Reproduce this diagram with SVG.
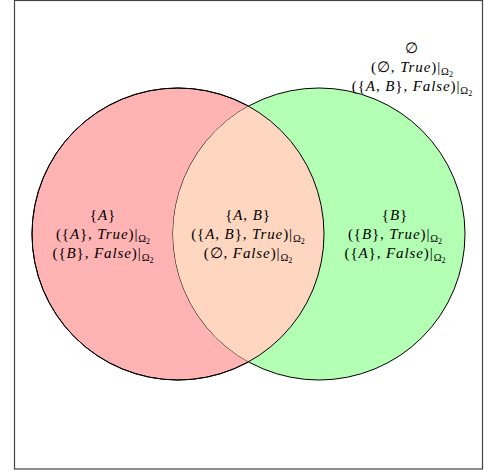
<svg xmlns="http://www.w3.org/2000/svg" width="484" height="471" viewBox="0 0 484 471">
<style>
.frame{fill:#fff;stroke:#444;stroke-width:1.2}
.c{stroke:#000;stroke-width:1}
.t{font-family:"Liberation Serif","Times New Roman",serif;font-size:15px;letter-spacing:0.9px;fill:#000;text-anchor:middle}
.i{font-style:italic}
.s{font-size:10.5px;letter-spacing:0}
.ss{font-size:8px;letter-spacing:0}
</style>
<defs>
<clipPath id="clipA"><circle cx="178" cy="234" r="146"/></clipPath>
</defs>
<rect class="frame" x="14.5" y="0.5" width="468" height="468.5"/>
<g id="setA"><circle class="c" cx="178" cy="234" r="146" fill="#ffb3b3"/></g>
<g id="setB"><circle class="c" cx="319" cy="234" r="146" fill="#b3ffb3"/></g>
<g id="overlap"><circle cx="319" cy="234" r="146" fill="#ffd6c0" clip-path="url(#clipA)"/>
<circle cx="178" cy="234" r="146" fill="none" stroke="#000" stroke-width="1"/></g>
<g id="connectors"/>
<g id="label-A">
<text class="t" x="103" y="220">{<tspan class="i">A</tspan>}</text>
<text class="t" x="103" y="239">({<tspan class="i">A</tspan>}, <tspan class="i">True</tspan>)|<tspan class="s" dy="3">Ω</tspan><tspan class="ss" dy="1.5">2</tspan></text>
<text class="t" x="103" y="258">({<tspan class="i">B</tspan>}, <tspan class="i">False</tspan>)|<tspan class="s" dy="3">Ω</tspan><tspan class="ss" dy="1.5">2</tspan></text>
</g>
<g id="label-AB">
<text class="t" x="248" y="220">{<tspan class="i">A</tspan>, <tspan class="i">B</tspan>}</text>
<text class="t" x="248" y="239">({<tspan class="i">A</tspan>, <tspan class="i">B</tspan>}, <tspan class="i">True</tspan>)|<tspan class="s" dy="3">Ω</tspan><tspan class="ss" dy="1.5">2</tspan></text>
<text class="t" x="248" y="258">(∅, <tspan class="i">False</tspan>)|<tspan class="s" dy="3">Ω</tspan><tspan class="ss" dy="1.5">2</tspan></text>
</g>
<g id="label-B">
<text class="t" x="395" y="220">{<tspan class="i">B</tspan>}</text>
<text class="t" x="395" y="239">({<tspan class="i">B</tspan>}, <tspan class="i">True</tspan>)|<tspan class="s" dy="3">Ω</tspan><tspan class="ss" dy="1.5">2</tspan></text>
<text class="t" x="395" y="258">({<tspan class="i">A</tspan>}, <tspan class="i">False</tspan>)|<tspan class="s" dy="3">Ω</tspan><tspan class="ss" dy="1.5">2</tspan></text>
</g>
<g id="label-outside">
<text class="t" x="412" y="53">∅</text>
<text class="t" x="412" y="72">(∅, <tspan class="i">True</tspan>)|<tspan class="s" dy="3">Ω</tspan><tspan class="ss" dy="1.5">2</tspan></text>
<text class="t" x="412" y="91">({<tspan class="i">A</tspan>, <tspan class="i">B</tspan>}, <tspan class="i">False</tspan>)|<tspan class="s" dy="3">Ω</tspan><tspan class="ss" dy="1.5">2</tspan></text>
</g>
</svg>
